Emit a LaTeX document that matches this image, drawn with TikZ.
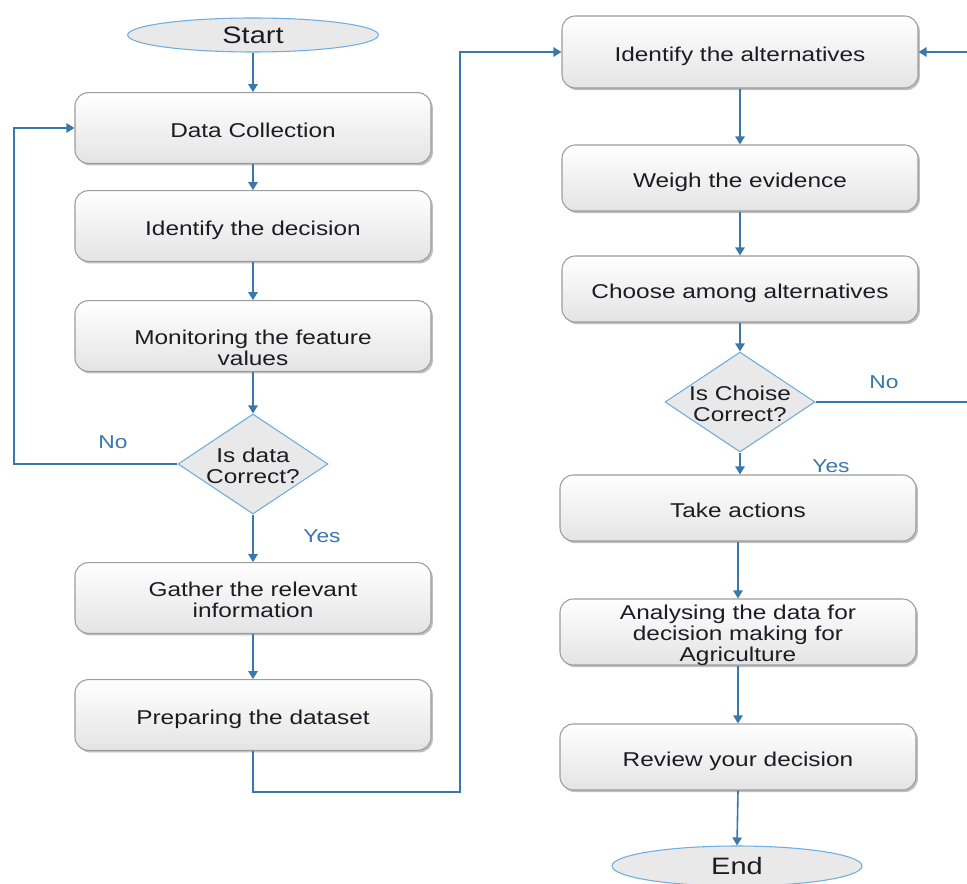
\documentclass[tikz,border=0pt]{standalone}
\usepackage{fontspec}
\setmainfont[FakeStretch=1.22]{Liberation Sans}
\usetikzlibrary{shapes.geometric,arrows.meta,shadows}

\definecolor{linkblue}{HTML}{3A78AC}
\definecolor{rimblue}{HTML}{6EAEE0}
\definecolor{boxrim}{HTML}{9C9C9C}
\definecolor{boxlow}{HTML}{E4E4E4}
\definecolor{shapefill}{HTML}{E9E9E9}
\definecolor{ink}{HTML}{1C1C24}

\tikzset{
  stepbox/.style={rectangle, rounded corners=10pt, draw=boxrim, line width=0.8pt,
    top color=white, bottom color=boxlow, text=ink, align=center,
    font=\fontsize{15}{15.8}\selectfont, inner sep=2pt,
    drop shadow={shadow xshift=1.4pt, shadow yshift=-1.6pt, fill=black!45, opacity=0.55}},
  oneline/.style={text height=14pt, text depth=0pt},
  leftbox/.style={stepbox, minimum width=267pt, minimum height=53pt},
  rightbox/.style={stepbox, minimum width=267pt, minimum height=49.5pt},
  boxtext/.style={text=ink, align=center, font=\fontsize{15}{15.8}\selectfont},
  terminal/.style={ellipse, draw=rimblue, fill=shapefill, line width=0.8pt,
    text=ink, font=\fontsize{17.8}{18}\selectfont, inner sep=0pt},
  decision/.style={diamond, draw=rimblue, fill=shapefill, line width=0.8pt,
    inner sep=0pt, minimum width=112.5pt, minimum height=75pt},
  conn/.style={draw=linkblue, line width=1.2pt,
    -{Triangle[length=6pt,width=7pt]}},
  branch/.style={text=linkblue, font=\fontsize{14}{14}\selectfont}
}

\begin{document}
\begin{tikzpicture}[x=0.75pt, y=-0.75pt]
  \useasboundingbox (0,0) rectangle (967,884);
  \clip (0,0) rectangle (967,884);
  \fill[white] (0,0) rectangle (967,884);

  % left column
  \node[terminal, minimum width=188pt, minimum height=25.5pt] (start) at (253,35) {Start};
  \node[leftbox, oneline] (collect) at (253,128) {Data Collection};
  \node[leftbox, oneline] (decide) at (253,226) {Identify the decision};
  \node[leftbox] (monitor) at (253,336) {};
  \node[boxtext] (monitortxt) at (253,348) {Monitoring the feature\\values};
  \node[decision] (datachk) at (253,464) {};
  \node[boxtext] (datachktxt) at (253,466) {Is data\\Correct?};
  \node[leftbox] (gather) at (253,598) {};
  \node[boxtext] (gathertxt) at (253,600) {Gather the relevant\\information};
  \node[leftbox, oneline] (prepare) at (253,715) {Preparing the dataset};

  % right column
  \node[rightbox, oneline, minimum height=54pt] (alts) at (740,52) {Identify the alternatives};
  \node[rightbox, oneline] (weigh) at (740,178) {Weigh the evidence};
  \node[rightbox, oneline] (choose) at (740,289) {Choose among alternatives};
  \node[decision] (choicechk) at (740,402) {};
  \node[boxtext] (choicechktxt) at (740,404) {Is Choise\\Correct?};
  \node[rightbox, oneline] (act) at (738,508) {Take actions};
  \node[rightbox] (analyse) at (738,632) {};
  \node[boxtext] (analysetxt) at (738,635) {Analysing the data for\\decision making for\\Agriculture};
  \node[rightbox, oneline] (review) at (738,757) {Review your decision};
  \node[terminal, minimum width=187.5pt, minimum height=30pt] (finish) at (737,866) {End};

  % routing points
  \coordinate (noleft) at (14,464);
  \coordinate (bottomturn) at (253,792);
  \coordinate (crossup) at (460,52);
  \coordinate (noright) at (985,402);

  % left column connectors
  \draw[conn] (start) -- (collect);
  \draw[conn] (collect) -- (decide);
  \draw[conn] (decide) -- (monitor);
  \draw[conn] (monitor) -- (datachk);
  \draw[conn] (datachk.west) -- (noleft) |- (collect.west);
  \draw[conn] (datachk) -- (gather);
  \draw[conn] (gather) -- (prepare);
  \draw[conn] (prepare.south) -- (bottomturn) -| (crossup) -- (alts.west);

  % right column connectors
  \draw[conn] (alts) -- (weigh);
  \draw[conn] (weigh) -- (choose);
  \draw[conn] (choose) -- (choicechk);
  \draw[conn] (choicechk.south) -- (choicechk.south |- act.north);
  \draw[conn] (act) -- (analyse);
  \draw[conn] (analyse) -- (review);
  \draw[conn] (review.south) -- (finish.north);
  \draw[conn] (choicechk.east) -- (noright) |- (alts.east);

  % branch labels
  \node[branch] (nol) at (113,442) {No};
  \node[branch] (yesl) at (322,536) {Yes};
  \node[branch] (nor) at (884,382) {No};
  \node[branch] (yesr) at (831,466) {Yes};
\end{tikzpicture}
\end{document}
